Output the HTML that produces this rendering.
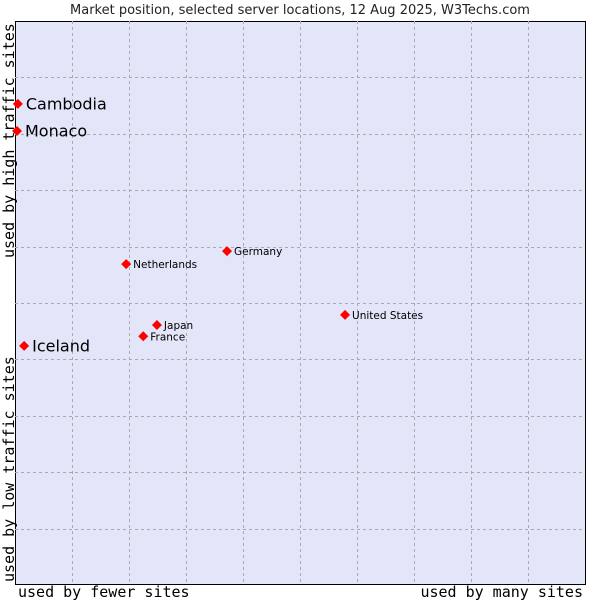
<!DOCTYPE html>
<html><head><meta charset="utf-8"><style>
body{margin:0;background:#fff;width:600px;height:600px;overflow:hidden}
svg{display:block}
</style></head><body>
<svg id="chart" width="600" height="600" xmlns="http://www.w3.org/2000/svg">
<text x="300" y="14" text-anchor="middle" font-family="DejaVu Sans, sans-serif" font-size="13" fill="#222">Market position, selected server locations, 12 Aug 2025, W3Techs.com</text>
<rect x="15.5" y="21.5" width="570" height="563" fill="#e3e5f8" stroke="#000" stroke-width="1"/>
<g id="grid"></g>
<g id="points"></g>
<text transform="translate(14,258) rotate(-90)" font-family="DejaVu Sans Mono, Liberation Mono, monospace" font-size="15" fill="#000">used by high traffic sites</text>
<text transform="translate(14,582) rotate(-90)" font-family="DejaVu Sans Mono, Liberation Mono, monospace" font-size="15" fill="#000">used by low traffic sites</text>
<text x="18" y="597" font-family="DejaVu Sans Mono, Liberation Mono, monospace" font-size="15" fill="#000">used by fewer sites</text>
<text x="583" y="597" text-anchor="end" font-family="DejaVu Sans Mono, Liberation Mono, monospace" font-size="15" fill="#000">used by many sites</text>
</svg>
<script>
const names = ["Cambodia","Monaco","Iceland","Netherlands","Germany","Japan","France","United States"];
const xValues = [0.5,0.35,1.6,19.5,37.2,24.9,22.5,57.9];
const yValues = [85.3,80.5,42.4,56.9,59.2,46.1,44.1,47.9];
const highlighted = [true,true,true,false,false,false,false,false];
const L=15,R=585,T=21,B=585;
const sx=v=>L+v/100*(R-L);
const sy=v=>B-v/100*(B-T);
const NS="http://www.w3.org/2000/svg";
const grid=document.getElementById('grid');
for(let i=1;i<10;i++){
  const gx=Math.round(L+i*57)+0.5;
  const l=document.createElementNS(NS,'line');
  l.setAttribute('x1',gx);l.setAttribute('x2',gx);l.setAttribute('y1',T);l.setAttribute('y2',B);
  l.setAttribute('stroke','#aaa');l.setAttribute('stroke-dasharray','3,3');
  
  
  grid.appendChild(l);
  const gy=Math.round(B-i*(B-T)/10)+0.5;
  const h=document.createElementNS(NS,'line');
  h.setAttribute('x1',L);h.setAttribute('x2',R);h.setAttribute('y1',gy);h.setAttribute('y2',gy);
  h.setAttribute('stroke','#aaa');h.setAttribute('stroke-dasharray','3,3');
  
  
  grid.appendChild(h);
}
const pts=document.getElementById('points');
names.forEach((n,i)=>{
  const x=sx(xValues[i]),y=sy(yValues[i]);
  const d=document.createElementNS(NS,'polygon');
  d.setAttribute('points',`${x},${y-5} ${x+5},${y} ${x},${y+5} ${x-5},${y}`);
  d.setAttribute('fill','#f00');
  
  
  pts.appendChild(d);
  const t=document.createElementNS(NS,'text');
  const big=highlighted[i];
  t.setAttribute('x',x+(big?8:7));t.setAttribute('y',y+(big?5.5:4));
  t.setAttribute('font-family','DejaVu Sans, sans-serif');
  t.setAttribute('font-size',big?16:10.5);
  t.setAttribute('fill','#000');
  t.textContent=n;
  
  
  pts.appendChild(t);
});
</script>
</body></html>
